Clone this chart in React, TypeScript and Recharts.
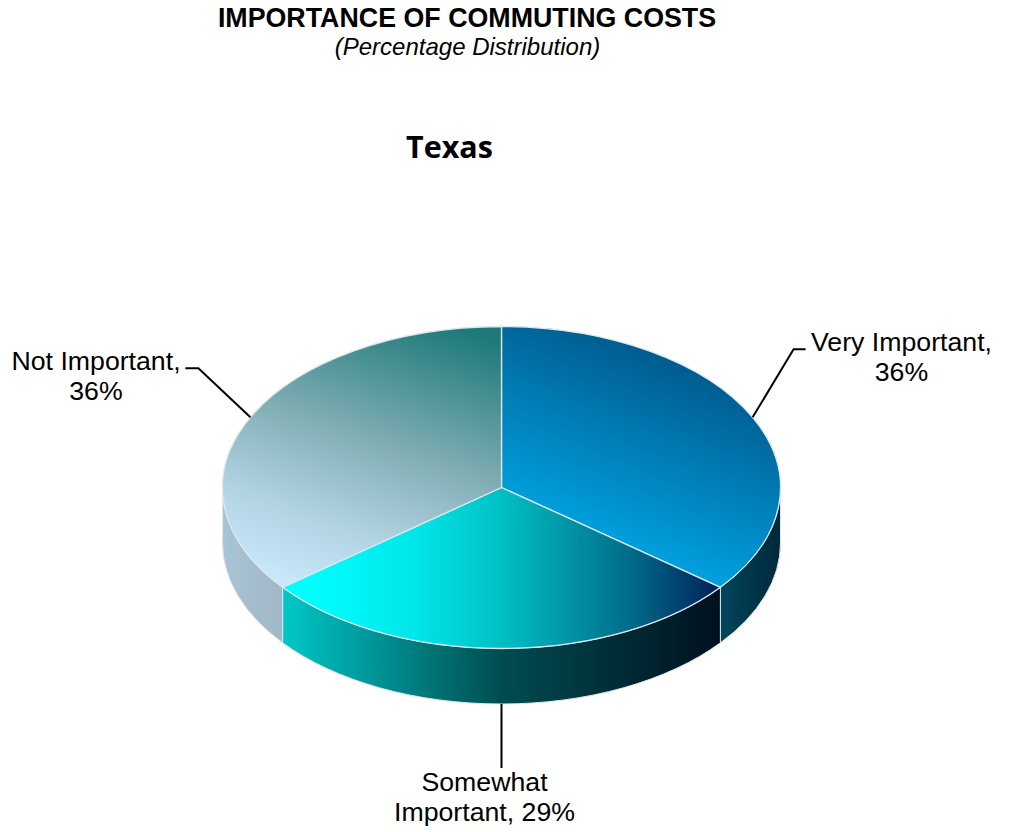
import { PieChart, Pie } from "recharts";

const categories = ["Very Important", "Somewhat Important", "Not Important"];
const values = [36, 29, 36];
const labelLines = [
  ["Very Important,", "36%"],
  ["Somewhat", "Important, 29%"],
  ["Not Important,", "36%"],
];
const title = "IMPORTANCE OF COMMUTING COSTS";
const subtitle = "(Percentage Distribution)";
const chartTitle = "Texas";

const data = categories.map((name, i) => ({ name, value: values[i] }));

const TILT = 161 / 279;
const DEPTH = 55.5;
const topFills = ["url(#topBlue)", "url(#topCyan)", "url(#topGrey)"];
const sideFills = ["url(#sideBlue)", "url(#sideCyan)", "url(#sideGrey)"];
const EDGE = "#dde7ec";

const pt = (cx: number, cy: number, r: number, deg: number) => {
  const a = (deg * Math.PI) / 180;
  return [cx + r * Math.cos(a), cy - r * TILT * Math.sin(a)];
};

const Slice3D = (props: any) => {
  const { cx, cy, outerRadius: r, startAngle, endAngle, name } = props;
  const index = categories.indexOf(name ?? props.payload?.name);
  const ry = r * TILT;
  const [x1, y1] = pt(cx, cy, r, startAngle);
  const [x2, y2] = pt(cx, cy, r, endAngle);
  const large = Math.abs(startAngle - endAngle) > 180 ? 1 : 0;
  const top = `M${cx},${cy} L${x1},${y1} A${r},${ry} 0 ${large} 1 ${x2},${y2} Z`;

  // only the front half of the rim is visible
  const s = Math.min(startAngle, 0);
  const e = Math.max(endAngle, -180);
  const [sx1, sy1] = pt(cx, cy, r, s);
  const [sx2, sy2] = pt(cx, cy, r, e);
  const side = `M${sx1},${sy1} A${r},${ry} 0 0 1 ${sx2},${sy2} L${sx2},${sy2 + DEPTH} A${r},${ry} 0 0 0 ${sx1},${sy1 + DEPTH} Z`;

  return (
    <g>
      <path d={side} fill={sideFills[index]} stroke={EDGE} strokeWidth={1} />
      <path d={top} fill={topFills[index]} stroke={EDGE} strokeWidth={1.3} />
    </g>
  );
};

const leaders: Record<number, { elbow: [number, number]; end: [number, number] }> = {
  0: { elbow: [41, -68], end: [53, -68] },
  1: { elbow: [0, 64], end: [0, 64] },
  2: { elbow: [-52, -49], end: [-65, -49] },
};
const labelAnchors = [
  { x: 901.5, y: 351 },
  { x: 484.5, y: 791 },
  { x: 96, y: 370 },
];

const SliceLabel = (props: any) => {
  const { cx, cy, outerRadius: r, midAngle, index } = props;
  let [x, y] = pt(cx, cy, r, midAngle);
  if (Math.sin((midAngle * Math.PI) / 180) < 0) y += DEPTH;
  const l = leaders[index];
  const a = labelAnchors[index];
  return (
    <g>
      <polyline
        points={`${x},${y} ${x + l.elbow[0]},${y + l.elbow[1]} ${x + l.end[0]},${y + l.end[1]}`}
        fill="none"
        stroke="#000"
        strokeWidth={2}
      />
      {labelLines[index].map((line, i) => (
        <text key={i} x={a.x} y={a.y + i * 30} textAnchor="middle" fontFamily="Liberation Sans" fontSize={26.7} fill="#000">
          {line}
        </text>
      ))}
    </g>
  );
};

export default function App() {
  return (
    <div style={{ position: "absolute", left: 0, top: 0, width: 1009, height: 832, background: "#fff" }}>
      <PieChart width={1009} height={832} margin={{ top: 0, right: 0, bottom: 0, left: 0 }}>
        <defs>
          <linearGradient id="topBlue" gradientUnits="userSpaceOnUse" x1={585} y1={555} x2={680} y2={325}>
            <stop offset="0%" stopColor="#00a8e8" />
            <stop offset="100%" stopColor="#004f80" />
          </linearGradient>
          <linearGradient id="topGrey" gradientUnits="userSpaceOnUse" x1={335} y1={600} x2={435} y2={320}>
            <stop offset="0%" stopColor="#c8e8fb" />
            <stop offset="25%" stopColor="#b0d2e0" />
            <stop offset="55%" stopColor="#80adb4" />
            <stop offset="100%" stopColor="#1d7a78" />
          </linearGradient>
          <linearGradient id="topCyan" gradientUnits="userSpaceOnUse" x1={283} y1={0} x2={720} y2={0}>
            <stop offset="6%" stopColor="#00ffff" />
            <stop offset="30%" stopColor="#00e6ea" />
            <stop offset="50%" stopColor="#00c0c4" />
            <stop offset="80%" stopColor="#006a88" />
            <stop offset="100%" stopColor="#00205a" />
          </linearGradient>
          <linearGradient id="sideCyan" gradientUnits="userSpaceOnUse" x1={283} y1={0} x2={720} y2={0}>
            <stop offset="0%" stopColor="#00c8c8" />
            <stop offset="50%" stopColor="#004c50" />
            <stop offset="100%" stopColor="#00101f" />
          </linearGradient>
          <linearGradient id="sideGrey" gradientUnits="userSpaceOnUse" x1={222} y1={0} x2={283} y2={0}>
            <stop offset="0%" stopColor="#a9c4d4" />
            <stop offset="100%" stopColor="#a0b8c8" />
          </linearGradient>
          <linearGradient id="sideBlue" gradientUnits="userSpaceOnUse" x1={720} y1={0} x2={780} y2={0}>
            <stop offset="0%" stopColor="#00465c" />
            <stop offset="100%" stopColor="#00283a" />
          </linearGradient>
        </defs>
        <text x={467} y={27} textAnchor="middle" fontFamily="Liberation Sans" fontWeight="bold" fontSize={26.8} fill="#000">
          {title}
        </text>
        <text x={467.5} y={55} textAnchor="middle" fontFamily="Liberation Sans" fontStyle="italic" fontSize={24} fill="#000">
          {subtitle}
        </text>
        <text x={449.5} y={158} textAnchor="middle" fontFamily="Open Sans" fontWeight="bold" fontSize={30.5} fill="#000">
          {chartTitle}
        </text>
        <Pie
          data={data}
          dataKey="value"
          nameKey="name"
          cx={501.5}
          cy={487.5}
          outerRadius={279}
          startAngle={90}
          endAngle={-270}
          paddingAngle={0}
          stroke="none"
          isAnimationActive={false}
          shape={Slice3D}
          label={SliceLabel}
          labelLine={false}
        />
      </PieChart>
    </div>
  );
}
